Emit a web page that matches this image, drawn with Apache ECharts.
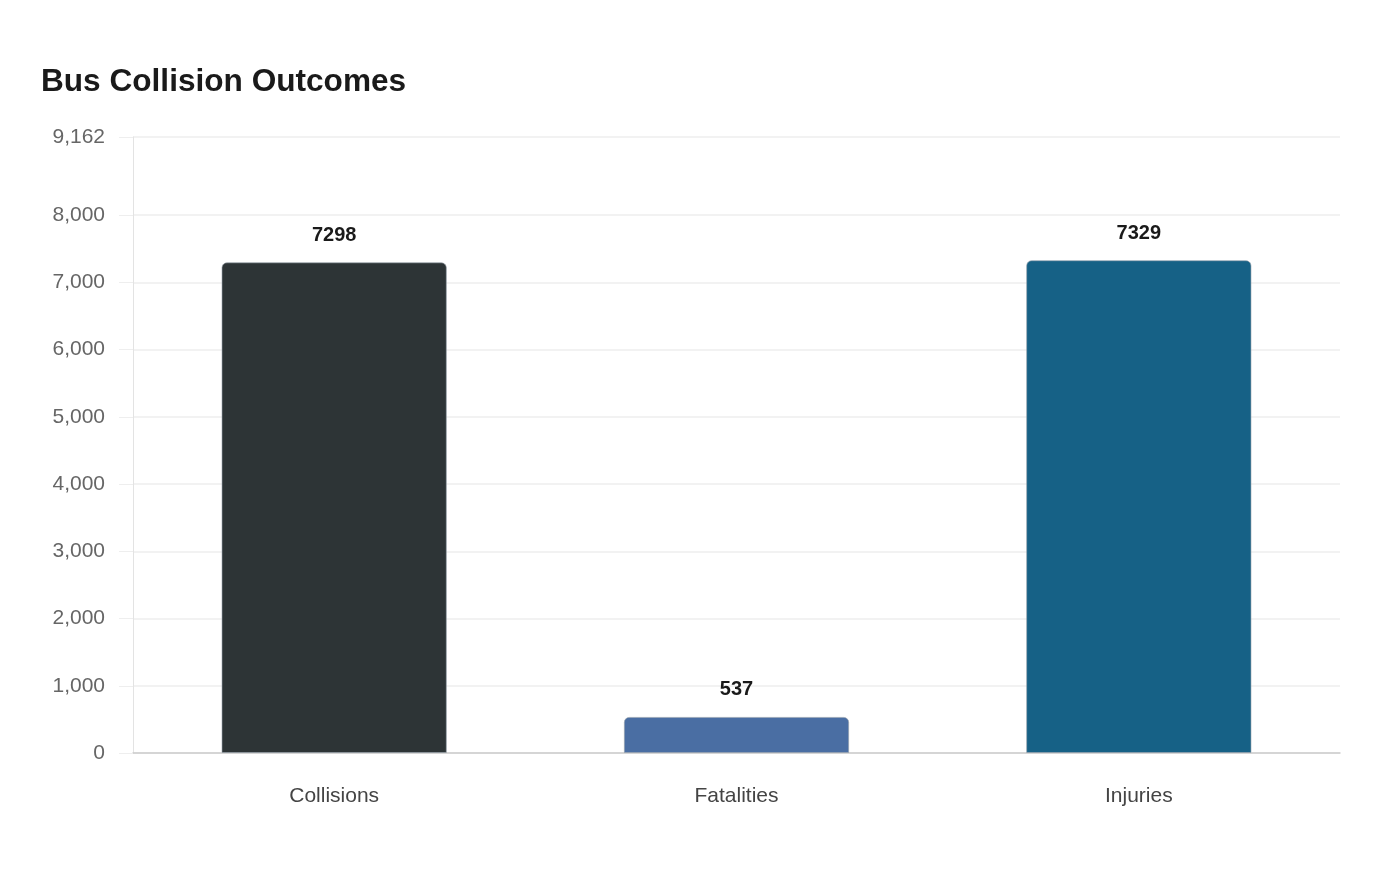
<!DOCTYPE html>
<html>
<head>
<meta charset="utf-8">
<script src="https://cdn.jsdelivr.net/npm/echarts@6/dist/echarts.min.js"></script>
<style>
  html, body { margin: 0; padding: 0; background: #fff; }
  #main { width: 1400px; height: 880px; }
</style>
</head>
<body>
<div id="main"></div>
<script>
// data
var categories = ["Collisions", "Fatalities", "Injuries"];
var values = [7298, 537, 7329];
var barColors = ["#2d3436", "#4a6ea3", "#166186"];
var yMax = 9162;
var yTicks = [0, 1000, 2000, 3000, 4000, 5000, 6000, 7000, 8000, 9162];

var font = "'Liberation Sans', Arial, sans-serif";
var myChart = echarts.init(document.getElementById("main"));
var option = {
  backgroundColor: "#ffffff",
  textStyle: { fontFamily: font },
  title: {
    text: "Bus Collision Outcomes",
    left: 36,
    top: 61,
    textStyle: { fontFamily: font, fontSize: 31.6, fontWeight: "bold", color: "#1a1a1a" }
  },
  grid: { left: 133, right: 60, top: 137, bottom: 127 },
  xAxis: {
    type: "category",
    data: categories,
    axisLine: { lineStyle: { color: "#cccccc", width: 1.5 } },
    axisTick: { show: false },
    axisLabel: { fontFamily: font, fontSize: 21, color: "#444", margin: 33 }
  },
  yAxis: {
    type: "value",
    min: 0,
    max: yMax,
    axisLine: { show: true, lineStyle: { color: "#e3e3e3" } },
    axisTick: { show: true, length: 14, customValues: yTicks, lineStyle: { color: "#eeeeee" } },
    splitLine: { lineStyle: { color: "#eeeeee", width: 1.5 } },
    axisLabel: {
      fontFamily: font,
      fontSize: 21,
      color: "#666",
      margin: 28,
      customValues: yTicks,
      formatter: function (v) { return v.toLocaleString("en-US"); }
    }
  },
  series: [
    {
      type: "bar",
      barWidth: "56%",
      data: values.map(function (v, i) {
        return { value: v, itemStyle: { color: barColors[i] } };
      }),
      itemStyle: {
        borderRadius: [5, 5, 0, 0],
        borderColor: "rgba(150,160,170,0.6)",
        borderWidth: 1
      },
      label: {
        show: true,
        position: "top",
        distance: 17,
        fontFamily: font,
        fontSize: 20,
        fontWeight: "bold",
        color: "#1a1a1a"
      }
    }
  ]
};
option && myChart.setOption(option);
</script>
</body>
</html>
